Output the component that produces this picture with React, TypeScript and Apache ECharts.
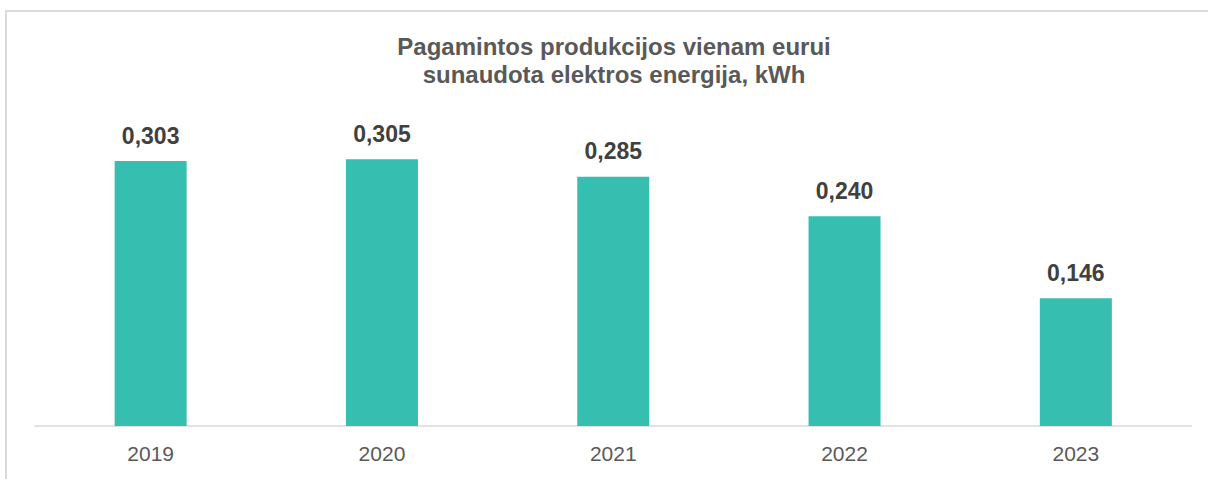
import React, { useEffect, useRef } from "react";
import * as echarts from "echarts";

const categories = ["2019", "2020", "2021", "2022", "2023"];
const values = [0.303, 0.305, 0.285, 0.24, 0.146];
const titleLines = ["Pagamintos produkcijos vienam eurui", "sunaudota elektros energija, kWh"];

export default function App() {
  const ref = useRef<HTMLDivElement>(null);
  useEffect(() => {
    if (!ref.current) return;
    const chart = echarts.init(ref.current, null, { renderer: "svg" });
    chart.setOption({
      animation: false,
      backgroundColor: "#ffffff",
      title: {
        text: titleLines.join("\n"),
        left: 614,
        textAlign: "center",
        top: 32,
        padding: 0,
        textStyle: {
          fontFamily: "Liberation Sans, Arial, sans-serif",
          fontSize: 24,
          fontWeight: "bold",
          color: "#595959",
          lineHeight: 28,
        },
      },
      graphic: [
        {
          type: "rect",
          shape: { x: 6, y: 11, width: 1230, height: 500 },
          style: { fill: "none", stroke: "#dadada", lineWidth: 2 },
          silent: true,
          z: -1,
        },
      ],
      grid: { left: 35, right: 16.5, top: 120, bottom: 53, containLabel: false },
      xAxis: {
        type: "category",
        data: categories,
        axisLine: { show: true, lineStyle: { color: "#d9d9d9", width: 1.5 } },
        axisTick: { show: false },
        axisLabel: {
          margin: 17,
          fontFamily: "Liberation Sans, Arial, sans-serif",
          fontSize: 21,
          color: "#595959",
        },
      },
      yAxis: {
        type: "value",
        min: 0,
        max: 0.35,
        show: false,
        splitLine: { show: false },
      },
      series: [
        {
          type: "bar",
          data: values,
          barWidth: 72,
          itemStyle: { color: "#36BEB1" },
          label: {
            show: true,
            position: "top",
            distance: 14,
            formatter: (p: any) => p.value.toFixed(3).replace(".", ","),
            fontFamily: "Liberation Sans, Arial, sans-serif",
            fontSize: 23,
            fontWeight: "bold",
            color: "#404040",
          },
        },
      ],
    });
    return () => chart.dispose();
  }, []);
  return (
    <div
      ref={ref}
      style={{ position: "fixed", left: 0, top: 0, width: 1208, height: 479 }}
    />
  );
}
